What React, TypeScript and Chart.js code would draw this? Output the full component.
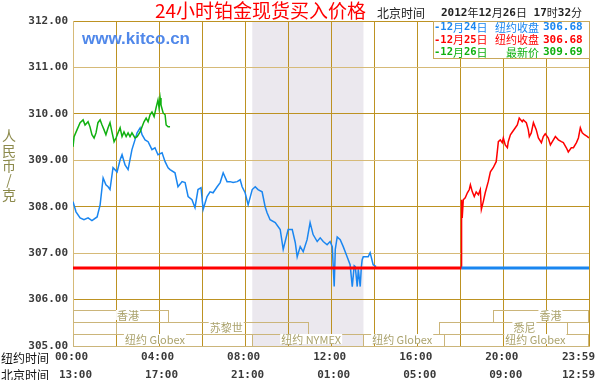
import React, { useEffect, useRef } from "react";
import { Chart, registerables } from "chart.js";

Chart.register(...registerables);

// ---- data ----
const blueHours = [0.0, 0.14, 0.33, 0.51, 0.7, 0.88, 1.12, 1.26, 1.4, 1.53, 1.63, 1.72, 1.86, 2.05, 2.19, 2.28, 2.42, 2.56, 2.74, 2.88, 2.98, 3.12, 3.21, 3.35, 3.49, 3.67, 3.81, 3.95, 4.14, 4.28, 4.42, 4.51, 4.74, 4.88, 5.07, 5.21, 5.35, 5.53, 5.67, 5.81, 5.95, 6.05, 6.23, 6.37, 6.51, 6.7, 6.84, 6.98, 7.16, 7.3, 7.44, 7.63, 7.77, 7.86, 8.0, 8.14, 8.33, 8.47, 8.6, 8.79, 8.93, 9.02, 9.16, 9.4, 9.63, 9.77, 10.0, 10.19, 10.33, 10.42, 10.56, 10.7, 10.88, 11.02, 11.16, 11.35, 11.49, 11.63, 11.81, 11.95, 12.05, 12.14, 12.19, 12.28, 12.42, 12.56, 12.74, 12.88, 12.98, 13.07, 13.12, 13.21, 13.26, 13.35, 13.4, 13.44, 13.49, 13.72, 13.81, 13.95, 14.09];
const blueValues = [308.11, 307.89, 307.76, 307.72, 307.76, 307.7, 307.78, 308.04, 308.62, 308.47, 308.43, 308.37, 308.84, 308.75, 309.01, 309.12, 308.9, 308.8, 309.23, 309.44, 309.59, 309.7, 309.55, 309.44, 309.4, 309.23, 309.27, 309.12, 309.16, 308.97, 308.84, 308.8, 308.73, 308.43, 308.54, 308.52, 308.22, 308.15, 307.98, 308.37, 308.41, 307.94, 308.22, 308.32, 308.3, 308.43, 308.52, 308.73, 308.54, 308.54, 308.52, 308.54, 308.58, 308.43, 308.3, 308.04, 308.37, 308.43, 308.37, 308.32, 308.0, 307.87, 307.72, 307.66, 307.51, 307.08, 307.51, 307.51, 307.23, 306.92, 307.14, 307.03, 307.29, 307.66, 307.4, 307.25, 307.33, 307.25, 307.18, 307.25, 307.14, 306.28, 307.08, 307.35, 307.29, 307.14, 306.92, 306.75, 306.28, 306.73, 306.71, 306.28, 306.65, 306.28, 306.69, 306.86, 306.92, 306.92, 307.01, 306.75, 306.71];

const greenHours = [0.0, 0.05, 0.19, 0.33, 0.47, 0.56, 0.7, 0.79, 0.88, 0.98, 1.07, 1.16, 1.26, 1.35, 1.44, 1.53, 1.63, 1.72, 1.81, 1.91, 2.0, 2.09, 2.19, 2.28, 2.37, 2.47, 2.56, 2.65, 2.74, 2.88, 2.98, 3.12, 3.21, 3.3, 3.4, 3.49, 3.58, 3.67, 3.77, 3.86, 3.95, 4.0, 4.05, 4.09, 4.19, 4.28, 4.33, 4.42, 4.51];
const greenValues = [309.29, 309.51, 309.66, 309.81, 309.87, 309.76, 309.83, 309.72, 309.55, 309.48, 309.59, 309.81, 309.87, 309.76, 309.66, 309.55, 309.7, 309.81, 309.61, 309.4, 309.48, 309.59, 309.7, 309.51, 309.61, 309.51, 309.59, 309.51, 309.59, 309.48, 309.51, 309.61, 309.72, 309.83, 309.91, 309.83, 309.98, 310.04, 309.94, 310.13, 310.3, 310.13, 310.34, 310.19, 310.02, 309.98, 309.76, 309.72, 309.72];

const redHours = [18.05, 18.06, 18.09, 18.14, 18.23, 18.33, 18.42, 18.47, 18.56, 18.65, 18.74, 18.84, 18.93, 18.98, 19.07, 19.16, 19.3, 19.4, 19.53, 19.67, 19.72, 19.77, 19.86, 19.95, 20.0, 20.09, 20.19, 20.23, 20.33, 20.42, 20.56, 20.65, 20.74, 20.88, 20.93, 21.07, 21.16, 21.21, 21.3, 21.4, 21.53, 21.63, 21.77, 21.86, 21.95, 22.09, 22.19, 22.28, 22.42, 22.56, 22.7, 22.79, 22.93, 23.02, 23.16, 23.26, 23.4, 23.49, 23.58, 23.67, 23.77, 23.91, 23.98];
const redValues = [306.68, 308.15, 307.76, 308.15, 308.19, 308.3, 308.37, 308.47, 308.32, 308.22, 308.32, 308.26, 308.37, 307.94, 308.11, 308.3, 308.54, 308.75, 308.84, 308.97, 309.18, 309.4, 309.44, 309.38, 309.48, 309.33, 309.27, 309.4, 309.55, 309.61, 309.7, 309.76, 309.91, 309.83, 309.87, 309.81, 309.66, 309.51, 309.59, 309.81, 309.66, 309.48, 309.38, 309.51, 309.57, 309.48, 309.33, 309.4, 309.51, 309.44, 309.4, 309.38, 309.27, 309.18, 309.27, 309.27, 309.38, 309.48, 309.7, 309.59, 309.55, 309.51, 309.48];

const closeValue = 306.68;
const switchHour = 18.05;
const dayEnd = 23.983;

const yTicks = [305, 306, 307, 308, 309, 310, 311, 312];
const gridHours = [0, 2, 4, 6, 8, 10, 12, 14, 16, 18, 20, 22, dayEnd];
const labelHours = [0, 4, 8, 12, 16, 20, dayEnd];
const nyLabels = ["00:00", "04:00", "08:00", "12:00", "16:00", "20:00", "23:59"];
const bjLabels = ["13:00", "17:00", "21:00", "01:00", "05:00", "09:00", "12:59"];
const nymexBand = [8.333, 13.5];

// session bars: row index, start hour, end hour, label, label-centre hour
const sessionRows = [0, 0, 1, 1, 2, 2, 2, 2];
const sessionStart = [0, 19.53, 2.0, 17.0, 0, 8.333, 13.5, 17.25];
const sessionEnd = [4.42, 24, 10.93, 22.98, 8.333, 13.5, 17.25, 24];
const sessionLabels = ["香港", "香港", "苏黎世", "悉尼", "纽约 Globex", "纽约 NYMEX", "纽约 Globex", "纽约 Globex"];
const sessionLabelAt = [2.56, 22.19, 7.12, 20.98, 3.81, 11.07, 15.3, 21.49];
const rowTopValues = [305.77, 305.52, 305.26];
const rowBottomValues = [305.52, 305.26, 305.0];

const legendPrefix = ["-12月24日", "-12月25日", "-12月26日"];
const legendNames = ["纽约收盘", "纽约收盘", "最新价"];
const legendValues = ["306.68", "306.68", "309.69"];
const legendColors = ["#1a86f0", "#ff0000", "#10b010"];

const titleText = "24小时铂金现货买入价格";
const timeCaption = "北京时间";
const timeStamp = "2012年12月26日 17时32分";
const yTitle = ["人", "民", "币", "/", "克"];

const MONO = '"DejaVu Sans Mono", monospace';
const CJK = '"Noto Sans CJK SC", sans-serif';

function toXY(hs: number[], vs: number[]) {
  return hs.map((h, i) => ({ x: h, y: vs[i] }));
}

function drawMixed(ctx: CanvasRenderingContext2D, text: string, x: number, y: number, color: string, align: "left" | "right" | "center", asciiFont: string, cjkFont: string) {
  const runs = text.match(/[\x00-\x7f]+|[^\x00-\x7f]+/g) || [];
  const isAscii = (r: string) => /^[\x00-\x7f]+$/.test(r);
  const widths = runs.map((r) => {
    ctx.font = isAscii(r) ? asciiFont : cjkFont;
    return ctx.measureText(r).width;
  });
  const total = widths.reduce((a, b) => a + b, 0);
  let cx = align === "left" ? x : align === "right" ? x - total : x - total / 2;
  ctx.fillStyle = color;
  ctx.textAlign = "left";
  ctx.textBaseline = "middle";
  runs.forEach((r, i) => {
    ctx.font = isAscii(r) ? asciiFont : cjkFont;
    ctx.fillText(r, cx, y);
    cx += widths[i];
  });
  return total;
}

const decoPlugin = {
  id: "deco",
  beforeDraw(chart: any) {
    const { ctx, chartArea: a, scales } = chart;
    const x = scales.x;
    ctx.save();
    ctx.fillStyle = "#ebe8ee";
    const x0 = x.getPixelForValue(nymexBand[0]);
    const x1 = x.getPixelForValue(nymexBand[1]);
    ctx.fillRect(x0, a.top, x1 - x0, a.bottom - a.top);
    ctx.restore();
  },
  afterDraw(chart: any) {
    const { ctx, chartArea: a, scales } = chart;
    const x = scales.x;
    const y = scales.y;
    ctx.save();

    // session bars
    ctx.lineWidth = 1;
    sessionRows.forEach((row, i) => {
      const x0 = Math.round(x.getPixelForValue(sessionStart[i])) + 0.5;
      const x1 = Math.min(Math.round(x.getPixelForValue(sessionEnd[i])), Math.round(a.right) - 1) + 0.5;
      const yt = Math.round(y.getPixelForValue(rowTopValues[row])) + 0.5;
      const yb = Math.round(y.getPixelForValue(rowBottomValues[row])) + 0.5;
      ctx.strokeStyle = "#cbb57a";
      ctx.strokeRect(x0, yt, x1 - x0, yb - yt);
    });
    sessionRows.forEach((row, i) => {
      const yt = Math.round(y.getPixelForValue(rowTopValues[row]));
      const lx = x.getPixelForValue(sessionLabelAt[i]);
      ctx.font = `11px ${CJK}`;
      const w = ctx.measureText(sessionLabels[i]).width;
      ctx.fillStyle = "#ffffff";
      ctx.fillRect(lx - w / 2 - 1, yt, w + 2, 10);
      ctx.fillStyle = "#aaa26c";
      ctx.textAlign = "center";
      ctx.textBaseline = "middle";
      ctx.fillText(sessionLabels[i], lx, yt + 5.5);
    });

    // x labels (two rows)
    const xfont = `bold 11px ${MONO}`;
    labelHours.forEach((h, i) => {
      const px = x.getPixelForValue(h);
      ctx.font = xfont;
      const w1 = ctx.measureText(nyLabels[i]).width;
      let c1 = px - 1.5;
      let c2 = px + 2.5;
      if (c1 + w1 / 2 > 595) c1 = 595 - w1 / 2;
      if (c2 + w1 / 2 > 595) c2 = 595 - w1 / 2;
      ctx.fillStyle = "#3a3a3a";
      ctx.textAlign = "center";
      ctx.textBaseline = "middle";
      ctx.fillText(nyLabels[i], c1, 357);
      ctx.fillText(bjLabels[i], c2, 375);
    });
    ctx.font = `12px ${CJK}`;
    ctx.fillStyle = "#111";
    ctx.textAlign = "left";
    ctx.textBaseline = "middle";
    ctx.fillText("纽约时间", 1, 358);
    ctx.fillText("北京时间", 1, 375);

    // y title
    ctx.font = `14px ${CJK}`;
    ctx.fillStyle = "#8c8a4c";
    ctx.textAlign = "center";
    yTitle.forEach((c, i) => {
      ctx.fillText(c, 9, 136 + i * 14.6);
    });

    // title
    ctx.font = `19px ${CJK}`;
    ctx.fillStyle = "#ff0000";
    ctx.textAlign = "left";
    ctx.fillText(titleText, 155, 11);

    // time caption
    drawMixed(ctx, timeCaption, 377, 13, "#222", "left", `bold 11px ${MONO}`, `12px ${CJK}`);
    drawMixed(ctx, timeStamp, 441, 13, "#222", "left", `bold 11px ${MONO}`, `11px ${CJK}`);

    // watermark
    ctx.font = `bold 17px "Liberation Sans", Arial, sans-serif`;
    ctx.fillStyle = "#5088ea";
    ctx.textAlign = "left";
    ctx.fillText("www.kitco.cn", 82, 39);

    // legend box
    ctx.fillStyle = "#ffffff";
    ctx.fillRect(433, 21, 157, 38);
    ctx.strokeStyle = "#c9a85a";
    ctx.lineWidth = 1;
    ctx.strokeRect(433.5, 21.5, 156, 37);
    const rowsY = [27.5, 40, 52.5];
    const lAscii = `bold 10.5px ${MONO}`;
    const lCjk = `11px ${CJK}`;
    legendPrefix.forEach((p, i) => {
      drawMixed(ctx, p, 434, rowsY[i], legendColors[i], "left", lAscii, lCjk);
      drawMixed(ctx, legendNames[i], 539, rowsY[i], legendColors[i], "right", lAscii, lCjk);
      drawMixed(ctx, legendValues[i], 543, rowsY[i], legendColors[i], "left", `bold 11px ${MONO}`, lCjk);
    });

    ctx.restore();
  },
};

export default function App() {
  const ref = useRef<HTMLCanvasElement | null>(null);
  useEffect(() => {
    if (!ref.current) return;
    const gridDark = "#bd9222";
    const gridLight = "#d6ba78";
    const chart = new Chart(ref.current, {
      type: "line",
      data: {
        datasets: [
          {
            data: toXY([0, switchHour], [closeValue, closeValue]),
            borderColor: "#ff0000",
            borderWidth: 3,
            pointRadius: 0,
          },
          {
            data: toXY([switchHour, dayEnd], [closeValue, closeValue]),
            borderColor: "#1a86f0",
            borderWidth: 3,
            pointRadius: 0,
          },
          {
            data: toXY(greenHours, greenValues),
            borderColor: "#10b010",
            borderWidth: 1.5,
            pointRadius: 0,
          },
          {
            data: toXY(redHours, redValues),
            borderColor: "#ff0000",
            borderWidth: 1.5,
            pointRadius: 0,
          },
          {
            data: toXY(blueHours, blueValues),
            borderColor: "#1a86f0",
            borderWidth: 1.5,
            pointRadius: 0,
          },
        ],
      },
      options: {
        animation: false,
        responsive: false,
        events: [],
        layout: { padding: { top: 21, right: 11, left: 0, bottom: 0 } },
        plugins: { legend: { display: false }, tooltip: { enabled: false }, title: { display: false } },
        elements: { line: { tension: 0 } },
        scales: {
          x: {
            type: "linear",
            min: 0,
            max: dayEnd,
            afterBuildTicks: (s: any) => {
              s.ticks = gridHours.map((v) => ({ value: v }));
            },
            afterFit: (s: any) => {
              s.height = 34;
            },
            ticks: { display: false },
            grid: { color: gridDark, drawTicks: false, lineWidth: 1 },
            border: { color: gridLight },
          },
          y: {
            type: "linear",
            min: 305,
            max: 312,
            afterBuildTicks: (s: any) => {
              s.ticks = yTicks.map((v) => ({ value: v }));
            },
            afterFit: (s: any) => {
              s.width = 73;
            },
            ticks: {
              callback: (v: any) => Number(v).toFixed(2),
              font: { family: "DejaVu Sans Mono", size: 11, weight: "bold" },
              color: "#3a3a3a",
              padding: 5,
            },
            grid: {
              drawTicks: false,
              lineWidth: 1,
              color: (c: any) => (c.tick && c.tick.value % 2 === 0 ? gridDark : gridLight),
            },
            border: { color: gridLight },
          },
        },
      },
      plugins: [decoPlugin],
    });
    return () => chart.destroy();
  }, []);
  return (
    <div style={{ position: "fixed", left: 0, top: 0, width: 600, height: 380, background: "#fff" }}>
      <canvas ref={ref} width={600} height={380} style={{ display: "block" }} />
    </div>
  );
}
